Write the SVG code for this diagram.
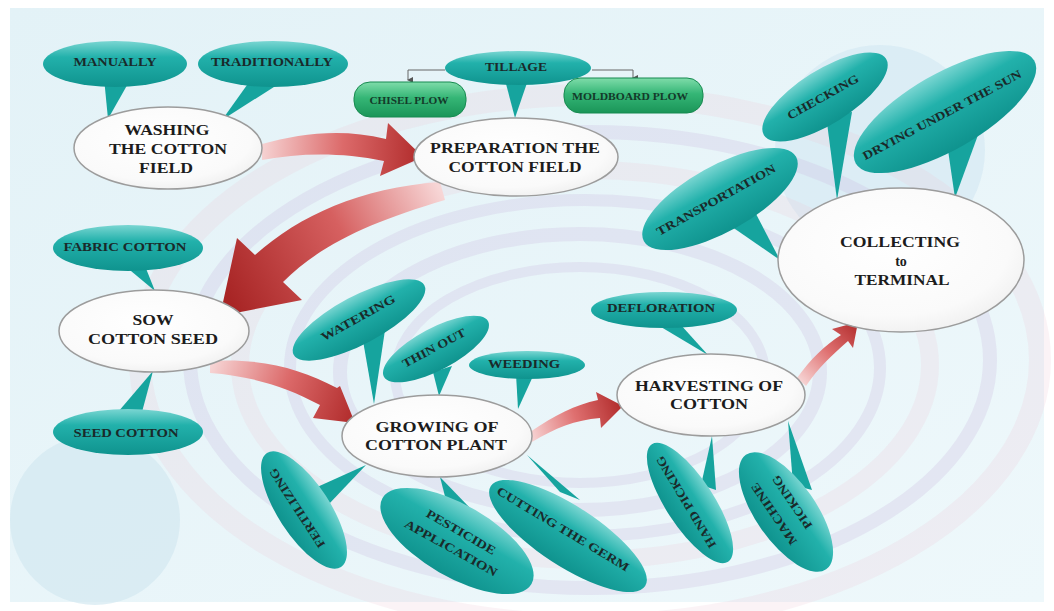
<svg xmlns="http://www.w3.org/2000/svg" width="1054" height="611" viewBox="0 0 1054 611">
<defs>
<style>
.nt{font-family:"Liberation Serif","Times New Roman",serif;font-weight:bold;font-size:15px;fill:#1c1c1c;text-anchor:middle}
.ct{font-family:"Liberation Serif","Times New Roman",serif;font-weight:bold;font-size:12px;fill:#1a2a2a;text-anchor:middle}
.pt{font-family:"Liberation Serif","Times New Roman",serif;font-weight:bold;font-size:10px;fill:#143a2a;text-anchor:middle}
.node{fill:url(#gWhite);stroke:#9c9c9c;stroke-width:1.5}
.call{fill:url(#gTeal)}
.tail{fill:#16a49e}
.plow{fill:url(#gGreen);stroke:#178a50;stroke-width:1}
.ring{fill:none;stroke:#cdbfe0;opacity:0.3}
.ringp{fill:none;stroke:#efc9d6;opacity:0.22}
.lnk{fill:none;stroke:#666;stroke-width:1}
</style>
<linearGradient id="gBg" x1="0" y1="0" x2="1" y2="1">
<stop offset="0" stop-color="#e3f2f7"/><stop offset="1" stop-color="#eef8fb"/>
</linearGradient>
<radialGradient id="gWhite" cx="0.45" cy="0.4" r="0.7">
<stop offset="0" stop-color="#ffffff"/><stop offset="0.7" stop-color="#fafafa"/><stop offset="1" stop-color="#ebebeb"/>
</radialGradient>
<linearGradient id="gTeal" x1="0" y1="0" x2="0" y2="1">
<stop offset="0" stop-color="#7ad6d2"/><stop offset="0.35" stop-color="#22b1ab"/><stop offset="1" stop-color="#0f938e"/>
</linearGradient>
<linearGradient id="gGreen" x1="0" y1="0" x2="0" y2="1">
<stop offset="0" stop-color="#7fdcaa"/><stop offset="0.45" stop-color="#35b676"/><stop offset="1" stop-color="#1a9558"/>
</linearGradient>
<linearGradient id="gA1" gradientUnits="userSpaceOnUse" x1="262" y1="150" x2="423" y2="157">
<stop offset="0" stop-color="#f6d2d2"/><stop offset="0.5" stop-color="#dc6a6a"/><stop offset="1" stop-color="#b02a2a"/>
</linearGradient>
<linearGradient id="gA2" gradientUnits="userSpaceOnUse" x1="440" y1="190" x2="230" y2="300">
<stop offset="0" stop-color="#f7d6d6"/><stop offset="0.45" stop-color="#d66060"/><stop offset="1" stop-color="#a82525"/>
</linearGradient>
<linearGradient id="gA3" gradientUnits="userSpaceOnUse" x1="210" y1="366" x2="355" y2="420">
<stop offset="0" stop-color="#f7d6d6"/><stop offset="0.5" stop-color="#dc6a6a"/><stop offset="1" stop-color="#b02a2a"/>
</linearGradient>
<linearGradient id="gA4" gradientUnits="userSpaceOnUse" x1="530" y1="437" x2="623" y2="406">
<stop offset="0" stop-color="#f7d6d6"/><stop offset="0.5" stop-color="#df7070"/><stop offset="1" stop-color="#b02a2a"/>
</linearGradient>
<linearGradient id="gA5" gradientUnits="userSpaceOnUse" x1="800" y1="382" x2="858" y2="322">
<stop offset="0" stop-color="#f7d6d6"/><stop offset="0.5" stop-color="#df7070"/><stop offset="1" stop-color="#b02a2a"/>
</linearGradient>
<marker id="mArr" viewBox="0 0 6 6" refX="3" refY="5" markerWidth="6" markerHeight="6" orient="auto-start-reverse" markerUnits="userSpaceOnUse">
<path d="M0,0 L6,0 L3,6 Z" fill="#555"/>
</marker>
</defs>

<g id="background">
<rect x="0" y="0" width="1054" height="611" fill="#ffffff"/>
<rect x="10" y="8" width="1034" height="594" fill="url(#gBg)"/>
<circle cx="95" cy="520" r="85" fill="#d3e8f1" opacity="0.7"/>
<circle cx="880" cy="150" r="105" fill="#d6eaf3" opacity="0.7"/>
<ellipse class="ringp" cx="590" cy="360" rx="450" ry="265" stroke-width="22"/>
<ellipse class="ring" cx="590" cy="360" rx="400" ry="228" stroke-width="14"/>
<ellipse class="ringp" cx="585" cy="365" rx="345" ry="195" stroke-width="18"/>
<ellipse class="ring" cx="585" cy="368" rx="295" ry="168" stroke-width="12"/>
<ellipse class="ring" cx="580" cy="372" rx="240" ry="138" stroke-width="14"/>
<ellipse class="ring" cx="580" cy="375" rx="185" ry="108" stroke-width="10"/>
</g>

<g id="connectors">
<path d="M262,144 C300,134 340,128 386,139 L388,123 L423,157 L380,176 L384,161 C340,152 300,153 262,160 Z" fill="url(#gA1)"/>
<path d="M440,182 C360,188 300,215 255,255 L237,238 L220,316 L302,300 L283,282 C320,245 370,222 445,200 Z" fill="url(#gA2)"/>
<path d="M210,361 C260,358 300,368 337,388 L340,386 L355,423 L313,418 L320,405 C285,386 250,376 210,373 Z" fill="url(#gA3)"/>
<path d="M530,432 C555,415 575,405 598,400 L596,392 L623,406 L601,428 L600,418 C575,420 555,428 532,442 Z" fill="url(#gA4)"/>
<path d="M797,378 C810,360 825,345 841,335 L832,329 L858,322 L853,348 L848,341 C832,355 818,368 806,386 Z" fill="url(#gA5)"/>
<path class="lnk" d="M445,70 H408 V80" marker-end="url(#mArr)"/>
<path class="lnk" d="M592,70 H633 V78" marker-end="url(#mArr)"/>
</g>

<g id="manually">
<polygon class="tail" points="104,78 130,80 108,119"/>
<ellipse class="call" cx="115" cy="64" rx="72" ry="23"/>
<text class="ct" x="115" y="66" textLength="83" lengthAdjust="spacingAndGlyphs">MANUALLY</text>
</g>
<g id="traditionally">
<polygon class="tail" points="252,78 288,78 222,120"/>
<ellipse class="call" cx="273" cy="64" rx="75" ry="23"/>
<text class="ct" x="272" y="66" textLength="122" lengthAdjust="spacingAndGlyphs">TRADITIONALLY</text>
</g>
<g id="tillage">
<polygon class="tail" points="505,80 528,80 515,118"/>
<ellipse class="call" cx="518" cy="68" rx="73" ry="17"/>
<text class="ct" x="516" y="71" textLength="62" lengthAdjust="spacingAndGlyphs">TILLAGE</text>
</g>
<g id="chisel-plow">
<rect class="plow" x="354" y="82" width="112" height="35" rx="16"/>
<text class="pt" x="409" y="104" textLength="79" lengthAdjust="spacingAndGlyphs">CHISEL PLOW</text>
</g>
<g id="moldboard-plow">
<rect class="plow" x="564" y="78" width="139" height="35" rx="16"/>
<text class="pt" x="630" y="100" textLength="116" lengthAdjust="spacingAndGlyphs">MOLDBOARD PLOW</text>
</g>
<g id="checking">
<polygon class="tail" points="826,115 852,112 837,200"/>
<ellipse class="call" cx="825" cy="97" rx="72" ry="27" transform="rotate(-32 825 97)"/>
<text class="ct" transform="translate(823,97) rotate(-29)" x="0" y="4" textLength="80" lengthAdjust="spacingAndGlyphs">CHECKING</text>
</g>
<g id="drying">
<polygon class="tail" points="948,150 978,135 955,198"/>
<ellipse class="call" cx="945" cy="112" rx="103" ry="38" transform="rotate(-30 945 112)"/>
<text class="ct" transform="translate(942,115) rotate(-28)" x="0" y="4" textLength="178" lengthAdjust="spacingAndGlyphs">DRYING UNDER THE SUN</text>
</g>
<g id="transportation">
<polygon class="tail" points="725,222 755,212 780,260"/>
<ellipse class="call" cx="720" cy="199" rx="87" ry="33" transform="rotate(-29 720 199)"/>
<text class="ct" transform="translate(716,200) rotate(-29)" x="0" y="4" textLength="134" lengthAdjust="spacingAndGlyphs">TRANSPORTATION</text>
</g>
<g id="fabric-cotton">
<polygon class="tail" points="125,266 145,266 155,291"/>
<ellipse class="call" cx="128" cy="248" rx="75" ry="23"/>
<text class="ct" x="125" y="251" textLength="123" lengthAdjust="spacingAndGlyphs">FABRIC COTTON</text>
</g>
<g id="seed-cotton">
<polygon class="tail" points="118,412 142,412 153,371"/>
<ellipse class="call" cx="128" cy="432" rx="75" ry="23"/>
<text class="ct" x="126" y="437" textLength="105" lengthAdjust="spacingAndGlyphs">SEED COTTON</text>
</g>
<g id="watering">
<polygon class="tail" points="362,335 385,330 374,404"/>
<ellipse class="call" cx="359" cy="320" rx="74" ry="24" transform="rotate(-28 359 320)"/>
<text class="ct" transform="translate(358,318) rotate(-29)" x="0" y="4" textLength="83" lengthAdjust="spacingAndGlyphs">WATERING</text>
</g>
<g id="thin-out">
<polygon class="tail" points="433,372 452,366 439,396"/>
<ellipse class="call" cx="436" cy="349" rx="59" ry="21" transform="rotate(-28 436 349)"/>
<text class="ct" transform="translate(434,348) rotate(-28)" x="0" y="4" textLength="70" lengthAdjust="spacingAndGlyphs">THIN OUT</text>
</g>
<g id="weeding">
<polygon class="tail" points="516,374 534,374 518,409"/>
<ellipse class="call" cx="527" cy="365" rx="58" ry="14"/>
<text class="ct" x="524" y="368" textLength="72" lengthAdjust="spacingAndGlyphs">WEEDING</text>
</g>
<g id="fertilizing">
<polygon class="tail" points="315,488 328,505 366,465"/>
<ellipse class="call" cx="304" cy="510" rx="68" ry="26" transform="rotate(57 304 510)"/>
<text class="ct" transform="translate(297,508) rotate(-123)" x="0" y="4" textLength="92" lengthAdjust="spacingAndGlyphs">FERTILIZING</text>
</g>
<g id="pesticide">
<polygon class="tail" points="448,508 470,508 440,477"/>
<ellipse class="call" cx="457" cy="541" rx="86" ry="36" transform="rotate(30 457 541)"/>
<text class="ct" transform="translate(461,532) rotate(30)" x="0" y="4" textLength="78" lengthAdjust="spacingAndGlyphs">PESTICIDE</text>
<text class="ct" transform="translate(451,548) rotate(29)" x="0" y="4" textLength="104" lengthAdjust="spacingAndGlyphs">APPLICATION</text>
</g>
<g id="cutting-the-germ">
<polygon class="tail" points="560,492 580,500 527,455"/>
<ellipse class="call" cx="568" cy="536" rx="92" ry="30" transform="rotate(33 568 536)"/>
<text class="ct" transform="translate(563,529) rotate(31)" x="0" y="4" textLength="152" lengthAdjust="spacingAndGlyphs">CUTTING THE GERM</text>
</g>
<g id="defloration">
<polygon class="tail" points="656,324 680,324 708,355"/>
<ellipse class="call" cx="664" cy="310" rx="73" ry="18"/>
<text class="ct" x="661" y="312" textLength="108" lengthAdjust="spacingAndGlyphs">DEFLORATION</text>
</g>
<g id="hand-picking">
<polygon class="tail" points="701,485 716,490 712,436"/>
<ellipse class="call" cx="690" cy="503" rx="70" ry="24" transform="rotate(57 690 503)"/>
<text class="ct" transform="translate(686,502) rotate(-121)" x="0" y="4" textLength="105" lengthAdjust="spacingAndGlyphs">HAND PICKING</text>
</g>
<g id="machine-picking">
<polygon class="tail" points="793,485 812,490 788,421"/>
<ellipse class="call" cx="786" cy="512" rx="70" ry="30" transform="rotate(55 786 512)"/>
<text class="ct" transform="translate(774,514) rotate(-124)" x="0" y="4" textLength="72" lengthAdjust="spacingAndGlyphs">MACHINE</text>
<text class="ct" transform="translate(792,502) rotate(-124)" x="0" y="4" textLength="62" lengthAdjust="spacingAndGlyphs">PICKING</text>
</g>

<g id="washing">
<ellipse class="node" cx="168" cy="148" rx="94" ry="41"/>
<text class="nt" x="167" y="135" textLength="85" lengthAdjust="spacingAndGlyphs">WASHING</text>
<text class="nt" x="168" y="154" textLength="118" lengthAdjust="spacingAndGlyphs">THE COTTON</text>
<text class="nt" x="166" y="173" textLength="54" lengthAdjust="spacingAndGlyphs">FIELD</text>
</g>
<g id="preparation">
<ellipse class="node" cx="516" cy="157" rx="102" ry="39"/>
<text class="nt" x="515" y="153" textLength="170" lengthAdjust="spacingAndGlyphs">PREPARATION THE</text>
<text class="nt" x="515" y="172" textLength="133" lengthAdjust="spacingAndGlyphs">COTTON FIELD</text>
</g>
<g id="collecting">
<ellipse class="node" cx="901" cy="260" rx="123" ry="72"/>
<text class="nt" x="900" y="247" textLength="120" lengthAdjust="spacingAndGlyphs">COLLECTING</text>
<text class="nt" x="901" y="266" style="font-size:14px">to</text>
<text class="nt" x="902" y="285" textLength="95" lengthAdjust="spacingAndGlyphs">TERMINAL</text>
</g>
<g id="sow">
<ellipse class="node" cx="154" cy="331" rx="95" ry="41"/>
<text class="nt" x="153" y="325" textLength="41" lengthAdjust="spacingAndGlyphs">SOW</text>
<text class="nt" x="153" y="344" textLength="130" lengthAdjust="spacingAndGlyphs">COTTON SEED</text>
</g>
<g id="growing">
<ellipse class="node" cx="437" cy="436" rx="95" ry="41"/>
<text class="nt" x="437" y="432" textLength="123" lengthAdjust="spacingAndGlyphs">GROWING OF</text>
<text class="nt" x="436" y="450" textLength="142" lengthAdjust="spacingAndGlyphs">COTTON PLANT</text>
</g>
<g id="harvesting">
<ellipse class="node" cx="711" cy="395" rx="94" ry="41"/>
<text class="nt" x="709" y="391" textLength="148" lengthAdjust="spacingAndGlyphs">HARVESTING OF</text>
<text class="nt" x="709" y="409" textLength="78" lengthAdjust="spacingAndGlyphs">COTTON</text>
</g>
</svg>
